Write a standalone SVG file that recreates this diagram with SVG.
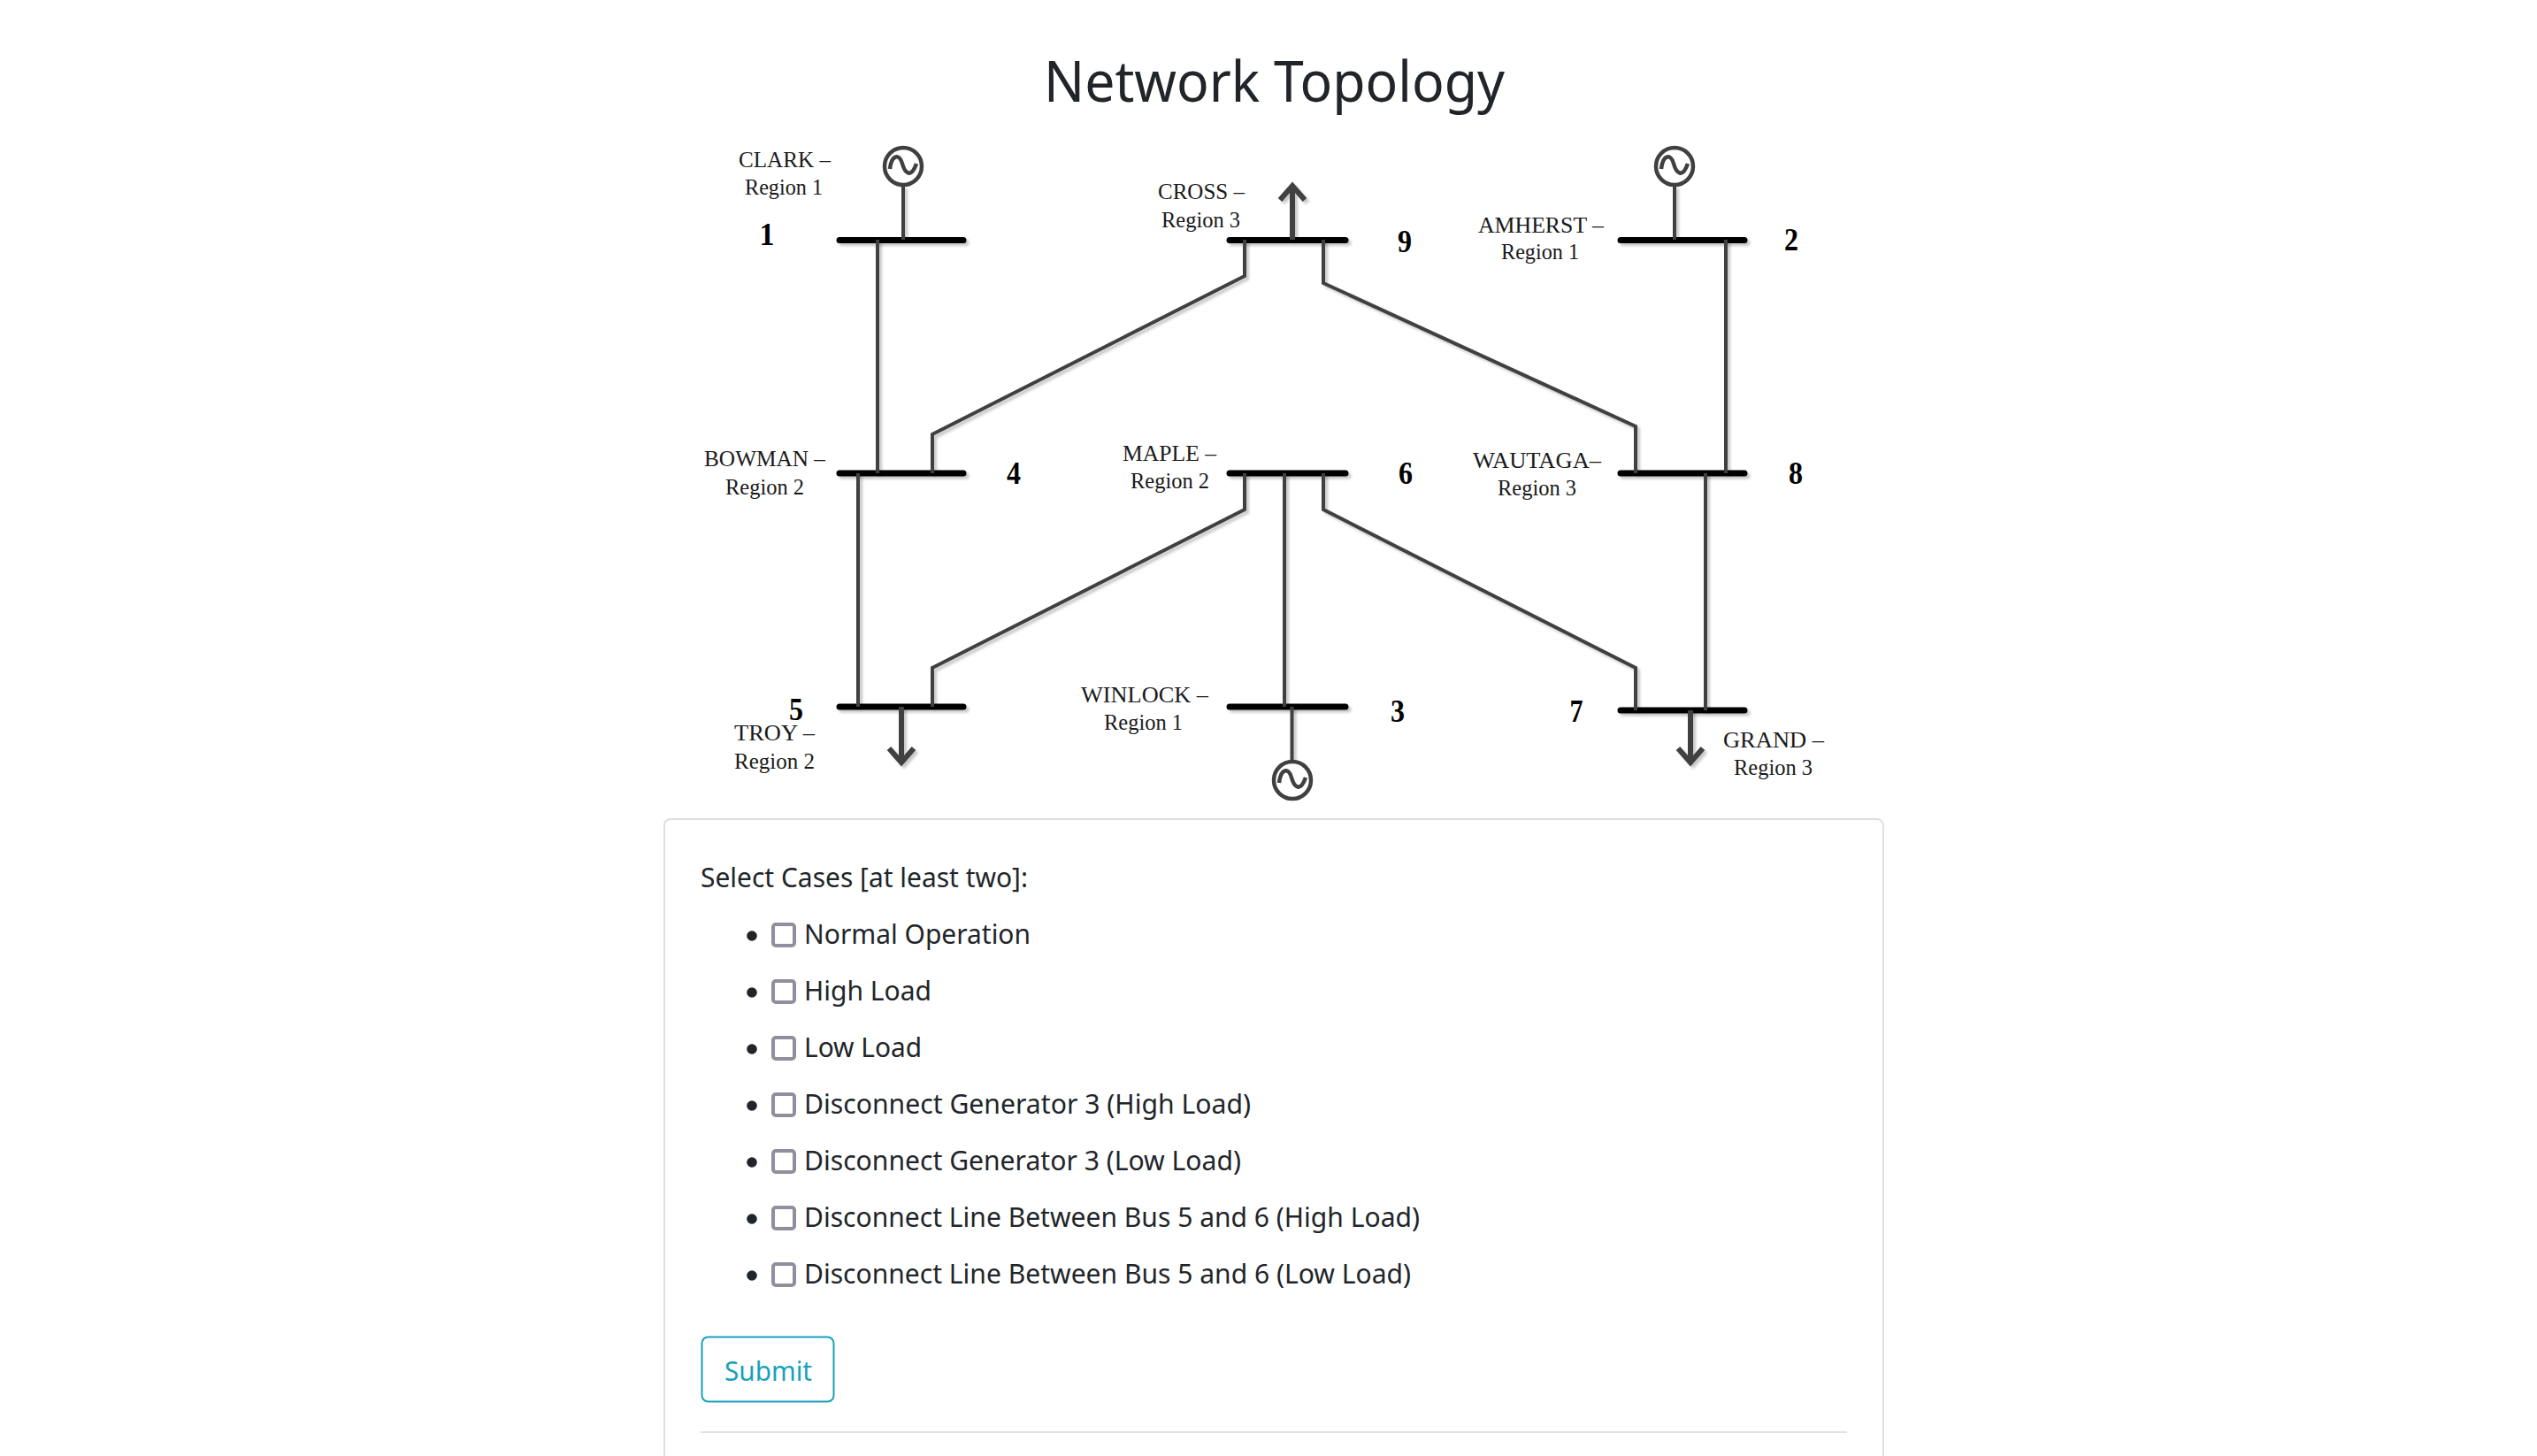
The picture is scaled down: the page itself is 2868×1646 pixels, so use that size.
<svg xmlns="http://www.w3.org/2000/svg" width="2868" height="1646" viewBox="0 0 2868 1646">
<style>
.bus{stroke:#000;stroke-width:7;stroke-linecap:round;fill:none}
.ln{stroke:#404040;stroke-width:4;fill:none;stroke-linejoin:miter}
.ar{stroke:#404040;stroke-width:6;fill:none;stroke-linejoin:miter}
.gen{stroke:#404040;stroke-width:4.5;fill:#fff}
.sine{stroke:#404040;stroke-width:4.5;fill:none}
.lb{font-family:"Liberation Serif",serif;font-size:26px;fill:#1a1a1a;text-anchor:start}
.num{font-family:"Liberation Serif",serif;font-size:36px;font-weight:bold;fill:#000;text-anchor:middle}
.ui{font-family:"Noto Sans","Open Sans",sans-serif;font-size:31px;fill:#212529}
.cb{fill:#fff;stroke:#8f8f9d;stroke-width:4}
</style>
<defs>
<filter id="sh" x="-10%" y="-10%" width="120%" height="120%" filterUnits="objectBoundingBox">
<feDropShadow dx="3" dy="3" stdDeviation="1.5" flood-color="#000" flood-opacity=".22"/>
</filter>
<g id="genSym"><circle r="21" class="gen"/><path class="sine" d="M-15,3C-13,-14 -4,-14 -1,-3S9,14 15,-3"/></g>
</defs>
<rect width="2868" height="1646" fill="#fff"/>
<text id="title" x="1180" y="115" font-family="Noto Sans,Open Sans,sans-serif" font-size="63" fill="#212529" textLength="521" lengthAdjust="spacingAndGlyphs">Network Topology</text>

<g id="buses" filter="url(#sh)">
<line class="bus" x1="949" y1="271.5" x2="1089" y2="271.5"/>
<line class="bus" x1="1390" y1="271.5" x2="1521" y2="271.5"/>
<line class="bus" x1="1832" y1="271.5" x2="1972" y2="271.5"/>
<line class="bus" x1="949" y1="535" x2="1089" y2="535"/>
<line class="bus" x1="1390" y1="535" x2="1521" y2="535"/>
<line class="bus" x1="1832" y1="535" x2="1972" y2="535"/>
<line class="bus" x1="949" y1="799" x2="1089" y2="799"/>
<line class="bus" x1="1390" y1="799" x2="1521" y2="799"/>
<line class="bus" x1="1832" y1="803" x2="1972" y2="803"/>
</g>

<g id="connectors" filter="url(#sh)">
<path class="ln" d="M992,271V535"/>
<path class="ln" d="M970,535V799"/>
<path class="ln" d="M1951,271V535"/>
<path class="ln" d="M1928,535V803"/>
<path class="ln" d="M1407,271V312L1054,491V535"/>
<path class="ln" d="M1496,271V320L1849,482V535"/>
<path class="ln" d="M1407,535V576L1054,755V799"/>
<path class="ln" d="M1496,535V576L1849,755V803"/>
<path class="ln" d="M1452,535V799"/>
<path class="ln" d="M1021,210V271"/>
<path class="ln" d="M1893,210V271"/>
<path class="ln" d="M1460.500,799V860"/>
<path class="ar" d="M1461,271V211M1447,226L1461,210L1475,226"/>
<path class="ar" d="M1019,799V860M1005,846L1019,862L1033,846"/>
<path class="ar" d="M1911,803V860M1897,846L1911,862L1925,846"/>
</g>

<g id="bus1"><use href="#genSym" x="1021" y="188"/><text class="num" x="867" y="277" textLength="17" lengthAdjust="spacingAndGlyphs">1</text><text class="lb" x="835" y="189" textLength="104" lengthAdjust="spacingAndGlyphs">CLARK –</text><text class="lb" x="842" y="220" textLength="88" lengthAdjust="spacingAndGlyphs">Region 1</text></g>
<g id="bus2"><use href="#genSym" x="1893" y="188"/><text class="num" x="2025" y="283" textLength="16" lengthAdjust="spacingAndGlyphs">2</text><text class="lb" x="1671" y="263" textLength="142" lengthAdjust="spacingAndGlyphs">AMHERST –</text><text class="lb" x="1697" y="293" textLength="88" lengthAdjust="spacingAndGlyphs">Region 1</text></g>
<g id="bus3"><use href="#genSym" x="1461" y="882"/><text class="num" x="1580" y="816" textLength="16" lengthAdjust="spacingAndGlyphs">3</text><text class="lb" x="1222" y="794" textLength="144" lengthAdjust="spacingAndGlyphs">WINLOCK –</text><text class="lb" x="1248" y="825" textLength="89" lengthAdjust="spacingAndGlyphs">Region 1</text></g>
<g id="bus4"><text class="num" x="1146" y="547" textLength="16" lengthAdjust="spacingAndGlyphs">4</text><text class="lb" x="796" y="527" textLength="137" lengthAdjust="spacingAndGlyphs">BOWMAN –</text><text class="lb" x="820" y="559" textLength="89" lengthAdjust="spacingAndGlyphs">Region 2</text></g>
<g id="bus5"><text class="num" x="900" y="814" textLength="16" lengthAdjust="spacingAndGlyphs">5</text><text class="lb" x="830" y="837" textLength="91" lengthAdjust="spacingAndGlyphs">TROY –</text><text class="lb" x="830" y="869" textLength="91" lengthAdjust="spacingAndGlyphs">Region 2</text></g>
<g id="bus6"><text class="num" x="1589" y="547" textLength="16" lengthAdjust="spacingAndGlyphs">6</text><text class="lb" x="1269" y="521" textLength="106" lengthAdjust="spacingAndGlyphs">MAPLE –</text><text class="lb" x="1278" y="552" textLength="89" lengthAdjust="spacingAndGlyphs">Region 2</text></g>
<g id="bus7"><text class="num" x="1782" y="816" textLength="15" lengthAdjust="spacingAndGlyphs">7</text><text class="lb" x="1948" y="845" textLength="114" lengthAdjust="spacingAndGlyphs">GRAND –</text><text class="lb" x="1960" y="876" textLength="89" lengthAdjust="spacingAndGlyphs">Region 3</text></g>
<g id="bus8"><text class="num" x="2030" y="547" textLength="16" lengthAdjust="spacingAndGlyphs">8</text><text class="lb" x="1665" y="529" textLength="145" lengthAdjust="spacingAndGlyphs">WAUTAGA–</text><text class="lb" x="1693" y="560" textLength="89" lengthAdjust="spacingAndGlyphs">Region 3</text></g>
<g id="bus9"><text class="num" x="1588" y="285" textLength="16" lengthAdjust="spacingAndGlyphs">9</text><text class="lb" x="1309" y="225" textLength="98" lengthAdjust="spacingAndGlyphs">CROSS –</text><text class="lb" x="1313" y="257" textLength="89" lengthAdjust="spacingAndGlyphs">Region 3</text></g>

<g id="form">
<path d="M751,1660V933a7,7 0 0 1 7,-7H2122a7,7 0 0 1 7,7V1660" fill="#fff" stroke="#dfdfe2" stroke-width="2"/>
<text class="ui" x="792" y="1003" textLength="370" lengthAdjust="spacingAndGlyphs">Select Cases [at least two]:</text>
<g fill="#212529"><circle cx="850" cy="1058" r="5.8"/><circle cx="850" cy="1122" r="5.8"/><circle cx="850" cy="1186" r="5.8"/><circle cx="850" cy="1250" r="5.8"/><circle cx="850" cy="1314" r="5.8"/><circle cx="850" cy="1378" r="5.8"/><circle cx="850" cy="1442" r="5.8"/></g>
<rect class="cb" x="874" y="1045" width="24" height="24" rx="3"/>
<rect class="cb" x="874" y="1109" width="24" height="24" rx="3"/>
<rect class="cb" x="874" y="1173" width="24" height="24" rx="3"/>
<rect class="cb" x="874" y="1237" width="24" height="24" rx="3"/>
<rect class="cb" x="874" y="1301" width="24" height="24" rx="3"/>
<rect class="cb" x="874" y="1365" width="24" height="24" rx="3"/>
<rect class="cb" x="874" y="1429" width="24" height="24" rx="3"/>
<text class="ui" x="909" y="1067" textLength="256" lengthAdjust="spacingAndGlyphs">Normal Operation</text>
<text class="ui" x="909" y="1131" textLength="144" lengthAdjust="spacingAndGlyphs">High Load</text>
<text class="ui" x="909" y="1195" textLength="133" lengthAdjust="spacingAndGlyphs">Low Load</text>
<text class="ui" x="909" y="1259" textLength="505" lengthAdjust="spacingAndGlyphs">Disconnect Generator 3 (High Load)</text>
<text class="ui" x="909" y="1323" textLength="494" lengthAdjust="spacingAndGlyphs">Disconnect Generator 3 (Low Load)</text>
<text class="ui" x="909" y="1387" textLength="696" lengthAdjust="spacingAndGlyphs">Disconnect Line Between Bus 5 and 6 (High Load)</text>
<text class="ui" x="909" y="1451" textLength="686" lengthAdjust="spacingAndGlyphs">Disconnect Line Between Bus 5 and 6 (Low Load)</text>
<rect x="793.5" y="1511.500" width="149" height="73" rx="7" fill="#fff" stroke="#17a2b8" stroke-width="2"/>
<text class="ui" x="819" y="1561" style="fill:#17a2b8" textLength="99" lengthAdjust="spacingAndGlyphs">Submit</text>
<rect x="792" y="1618" width="1296" height="2" fill="#e0e1e5"/>
</g>
</svg>
